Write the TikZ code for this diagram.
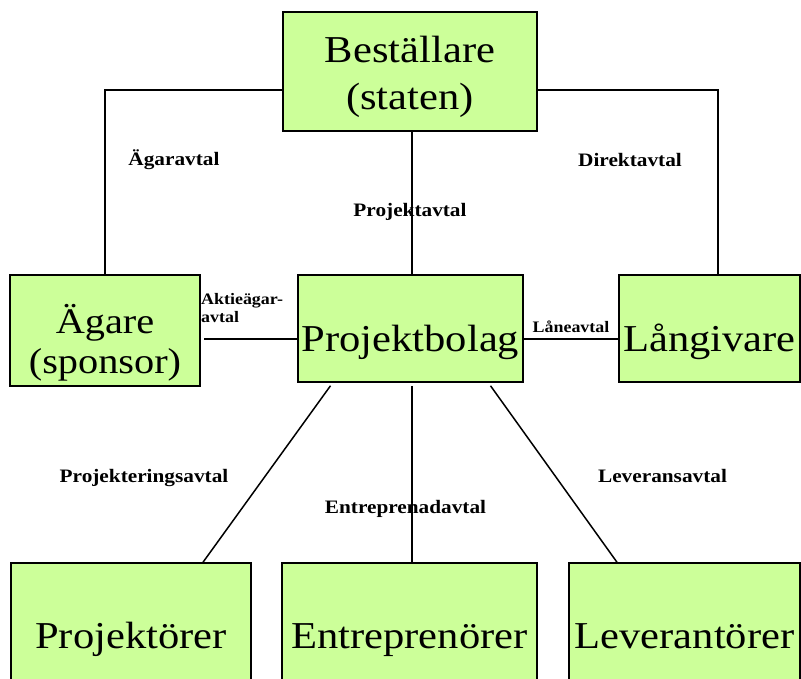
\documentclass[tikz,border=0pt]{standalone}
\usepackage{fontspec}
\setmainfont{Liberation Serif}
\usepackage{tikz}

\definecolor{boxgreen}{RGB}{204,255,153}
\newcommand\wide[1]{\scalebox{1.12}[1]{#1}}

\begin{document}
\begin{tikzpicture}[x=1pt, y=-1pt,
  box/.style={draw, fill=boxgreen, line width=1.5pt, inner sep=0pt,
    align=center, font=\fontsize{38}{47}\selectfont},
  lbl/.style={font=\bfseries\fontsize{19}{18}\selectfont, inner sep=0pt, anchor=base},
  wire/.style={line width=1.5pt}]
  \useasboundingbox (0,0) rectangle (801,679);
  \clip (0,0) rectangle (801,679);
  % boxes
  \node[box, minimum width=254pt, minimum height=119pt,
    text height=80pt, text depth=3pt] (best) at (410,71.5)
    {\wide{Beställare}\\\wide{(staten)}};
  \node[box, minimum width=190pt, minimum height=111pt,
    font=\fontsize{36}{40}\selectfont, text height=88pt, text depth=3pt]
    (agare) at (105,330.5) {\wide{Ägare}\\\wide{(sponsor)}};
  \node[box, minimum width=225pt, minimum height=107pt,
    text height=50pt, text depth=3pt] (bolag) at (410.5,328.5) {\wide{Projektbolag}};
  \node[box, minimum width=181pt, minimum height=107pt,
    text height=50pt, text depth=3pt] (lang) at (709.5,328.5) {\wide{Långivare}};
  \node[box, minimum width=240pt, minimum height=137pt,
    text height=36pt, text depth=3pt] (proj) at (131,631.5) {\wide{Projektörer}};
  \node[box, minimum width=255pt, minimum height=137pt,
    text height=36pt, text depth=3pt] (entr) at (409.5,631.5) {\wide{Entreprenörer}};
  \node[box, minimum width=231pt, minimum height=137pt,
    text height=36pt, text depth=3pt] (lev) at (684.5,631.5) {\wide{Leverantörer}};
  % labels
  \node[lbl] (l1) at (174,166) {\wide{Ägaravtal}};
  \node[lbl] (l2) at (410,217) {\wide{Projektavtal}};
  \node[lbl] (l3) at (630,167) {\wide{Direktavtal}};
  \node[lbl, align=left, anchor=base west, font=\bfseries\fontsize{16}{18}\selectfont]
    (l4) at (201,323) {\wide{Aktieägar-}\\\wide{avtal}};
  \node[lbl, font=\bfseries\fontsize{16}{16}\selectfont] (l5) at (571,332) {\wide{Låneavtal}};
  \node[lbl] (l6) at (144,482) {\wide{Projekteringsavtal}};
  \node[lbl] (l7) at (405.5,513) {\wide{Entreprenadavtal}};
  \node[lbl] (l8) at (662.5,482) {\wide{Leveransavtal}};
  % agreements
  \draw[wire] (agare.north) |- ([yshift=-18.5pt]best.west);
  \draw[wire] ([xshift=8.5pt]lang.north) |- ([yshift=-18.5pt]best.east);
  \draw[wire] ([xshift=2pt]best.south) -- ([xshift=1.5pt]bolag.north);
  \path ([yshift=-10.5pt]bolag.west) coordinate (bw);
  \draw[wire] (bw) -- ([xshift=3pt]agare.east |- bw);
  \draw[wire] ([yshift=-10.5pt]bolag.east) -- ([yshift=-10.5pt]lang.west);
  \draw[wire] ([xshift=-80pt,yshift=-3pt]bolag.south) -- ([xshift=72pt]proj.north);
  \draw[wire] ([xshift=1.5pt,yshift=-3pt]bolag.south) -- ([xshift=2.5pt]entr.north);
  \draw[wire] ([xshift=80pt,yshift=-3pt]bolag.south) -- ([xshift=-67.5pt]lev.north);
\end{tikzpicture}
\end{document}
